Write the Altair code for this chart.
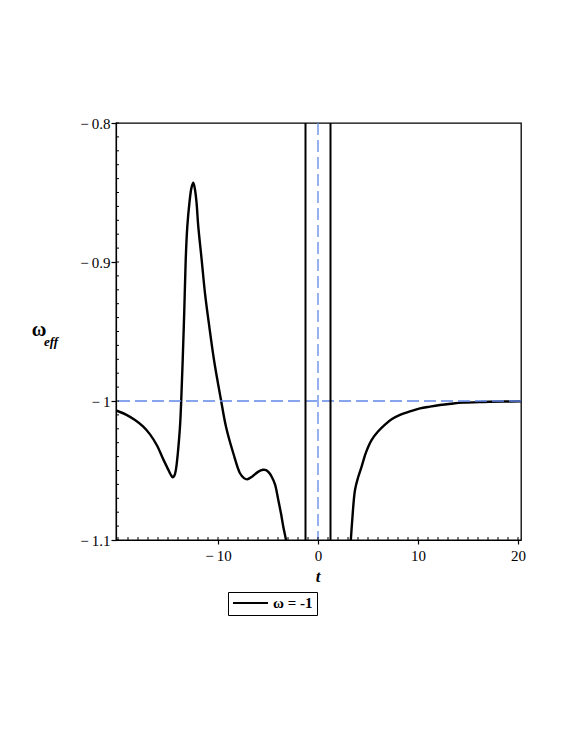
import altair as alt
import pandas as pd

# left branch of the curve (t, w_eff)
t_left = [-20.2, -19.2, -18.3, -17.5, -16.8, -16.1, -15.47, -15.0, -14.75, -14.53, -14.35, -14.2,
          -14.05, -13.9, -13.78, -13.68, -13.53, -13.37, -13.23, -13.07, -12.85, -12.65, -12.47,
          -12.3, -12.15, -11.97, -11.63, -11.3, -10.87, -10.4, -9.7, -9.2, -8.47, -7.8, -7.4,
          -7.1, -6.6, -6.0, -5.5, -5.2, -4.9, -4.63, -4.3, -3.97, -3.7, -3.47, -3.2, -3.0]
w_left = [-1.0068, -1.0098, -1.0137, -1.0183, -1.0240, -1.0320, -1.0420, -1.0490, -1.0527, -1.0549,
          -1.0535, -1.049, -1.040, -1.028, -1.016, -1.0, -0.9705, -0.9345, -0.8986, -0.8746,
          -0.857, -0.8465, -0.843, -0.848, -0.857, -0.8746, -0.8986, -0.9225, -0.9465, -0.9705,
          -0.9993, -1.0185, -1.0376, -1.052, -1.0555, -1.0564, -1.0545, -1.0510, -1.0495, -1.0497,
          -1.0515, -1.0545, -1.060, -1.0712, -1.081, -1.0904, -1.1, -1.11]
# right branch
t_right = [3.15, 3.27, 3.4, 3.7, 4.03, 4.37, 4.8, 5.37, 6.0, 6.7, 7.4, 8.2, 9.2, 10.2, 11.2, 12.2,
           13.3, 14.5, 16.5, 18.5, 20.3]
w_right = [-1.11, -1.101, -1.088, -1.064, -1.0545, -1.047, -1.037, -1.028, -1.022, -1.017, -1.013,
           -1.010, -1.0075, -1.0053, -1.004, -1.0029, -1.002, -1.0012, -1.0007, -1.0004, -1.0002]

singular_t = [-1.25, 1.25]
ref_t = [0]
ref_w = [-1]
x_major = [-10, 0, 10, 20]
x_minor = list(range(-20, 21))
y_major = [-0.8, -0.9, -1.0, -1.1]
y_minor = [round(-1.1 + 0.01 * i, 2) for i in range(31)]
legend_label = "ω = -1"

BLUE = "#6088e8"
SERIF = "Liberation Serif"
W, H = 405, 417

df = pd.DataFrame({
    "t": t_left + t_right,
    "w": w_left + w_right,
    "branch": ["L"] * len(t_left) + ["R"] * len(t_right),
    "series": [legend_label] * (len(t_left) + len(t_right)),
})

xs = alt.Scale(domain=[-20.2, 20.3], nice=False, zero=False)
ys = alt.Scale(domain=[-1.1, -0.8], nice=False, zero=False)

neg_label = ("datum.value < 0 ? '\u2212\u2009' + format(-datum.value, '') "
             ": format(datum.value, '')")

x_axis_major = alt.Axis(orient="bottom", values=x_major, tickSize=4, labelExpr=neg_label,
                        labelFont=SERIF, labelFontSize=15, labelPadding=4, title=None, grid=False,
                        domainColor="black", tickColor="black", labelColor="black",
                        domainWidth=1.2, tickWidth=1.2)
y_axis_major = alt.Axis(orient="left", values=y_major, tickSize=5, labelExpr=neg_label,
                        labelFont=SERIF, labelFontSize=15, labelPadding=1, title=None, grid=False,
                        domainColor="black", tickColor="black", labelColor="black",
                        domainWidth=1.2, tickWidth=1.2)

curve = alt.Chart(df).mark_line(clip=True, interpolate="catmull-rom", strokeWidth=2.4).encode(
    x=alt.X("t:Q", scale=xs, axis=x_axis_major),
    y=alt.Y("w:Q", scale=ys, axis=y_axis_major),
    detail="branch:N",
    color=alt.Color("series:N", scale=alt.Scale(domain=[legend_label], range=["black"]),
                    legend=alt.Legend(title=None, orient="none", legendX=112, legendY=469,
                                      strokeColor="black", fillColor="white", padding=4,
                                      symbolType="stroke", symbolSize=1225, symbolStrokeWidth=2,
                                      clipHeight=14,
                                      labelFont=SERIF, labelFontSize=15, labelFontWeight="bold",
                                      labelColor="black", cornerRadius=0)),
)

# inward minor ticks
xminor = alt.Chart(pd.DataFrame({"t": x_minor})).mark_rule(color="black", strokeWidth=1).encode(
    x=alt.X("t:Q", scale=xs, axis=None), y=alt.value(H - 3), y2=alt.value(H))
yminor = alt.Chart(pd.DataFrame({"w": y_minor})).mark_rule(color="black", strokeWidth=1).encode(
    y=alt.Y("w:Q", scale=ys, axis=None), x=alt.value(0), x2=alt.value(3))

hline = alt.Chart(pd.DataFrame({"w": ref_w})).mark_rule(
    color=BLUE, strokeDash=[12, 5], strokeWidth=1.3).encode(
    y=alt.Y("w:Q", scale=ys, axis=None))
vdash = alt.Chart(pd.DataFrame({"t": ref_t})).mark_rule(
    color=BLUE, strokeDash=[12, 5], strokeWidth=1.3).encode(
    x=alt.X("t:Q", scale=xs, axis=None))
vlines = alt.Chart(pd.DataFrame({"t": singular_t})).mark_rule(
    color="black", strokeWidth=2).encode(
    x=alt.X("t:Q", scale=xs, axis=None))

one = pd.DataFrame({"a": [0]})
omega = alt.Chart(one).mark_text(text="ω", font=SERIF, fontSize=20, fontWeight="bold",
                                 color="black", baseline="middle", align="center").encode(
    x=alt.value(-77), y=alt.value(207))
eff = alt.Chart(one).mark_text(text="eff", font=SERIF, fontSize=13, fontWeight="bold",
                               fontStyle="italic", color="black", baseline="middle",
                               align="center").encode(
    x=alt.value(-65), y=alt.value(219))
ttl = alt.Chart(one).mark_text(text="t", font=SERIF, fontSize=17, fontWeight="bold",
                               fontStyle="italic", color="black", baseline="middle",
                               align="center").encode(
    x=alt.value(202), y=alt.value(454))

chart = alt.layer(curve, hline, vdash, vlines, xminor, yminor, omega, eff, ttl).resolve_axis(
    x="independent", y="independent"
).properties(
    width=W, height=H,
    padding={"left": 108, "top": 115, "right": 36, "bottom": 160},
    autosize=alt.AutoSizeParams(type="none"),
).configure_view(stroke="black", strokeWidth=1.3)

chart.save("out.html", embed_options={"renderer": "svg", "actions": False})
